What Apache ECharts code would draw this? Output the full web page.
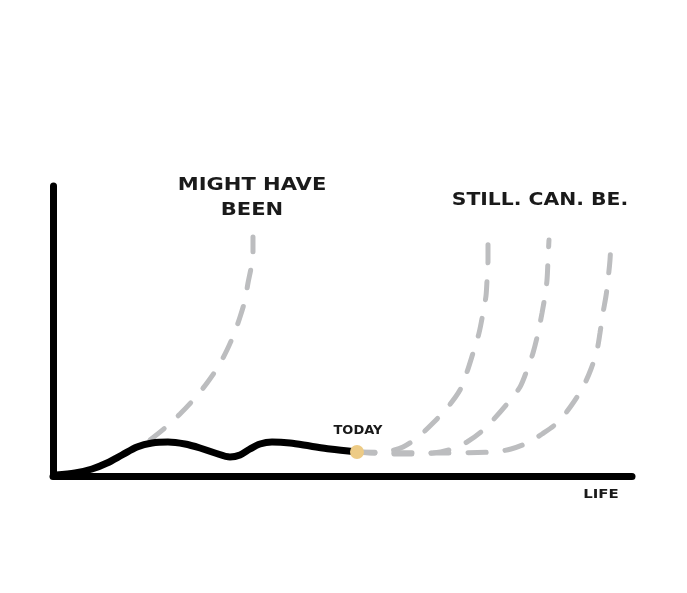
<!DOCTYPE html>
<html>
<head>
<meta charset="utf-8">
<script src="https://cdn.jsdelivr.net/npm/echarts@6/dist/echarts.min.js"></script>
<style>
  html, body { margin: 0; padding: 0; background: #fff; }
  #chart { width: 687px; height: 593px; }
</style>
</head>
<body>
<div id="chart"></div>
<script>
// Life timeline (x: 0-100 life progress, y: 0-100 outcome)
const lifeSoFar = [[0.52,0.34],[3.80,1.03],[6.74,2.41],[9.33,4.48],[11.92,7.24],[14.51,10.0],[17.10,11.38],[19.86,11.72],[22.80,11.03],[25.39,9.66],[27.98,7.93],[30.57,6.55],[32.30,7.24],[34.02,9.31],[35.75,11.03],[37.82,11.72],[40.93,11.38],[44.39,10.34],[47.84,9.31],[52.50,8.28]];
const mightHaveBeen = [[16.75,12.41],[19.34,16.55],[21.93,21.38],[24.53,26.90],[26.60,32.07],[28.50,37.59],[30.05,43.45],[31.26,48.97],[32.30,54.83],[33.16,60.69],[33.68,66.55],[34.20,71.72],[34.54,76.90],[34.54,82.41]];
const stillCanBe1 = [[52.50,8.28],[55.27,7.93],[58.20,8.62],[60.45,10.0],[63.04,13.45],[65.63,18.28],[68.05,23.45],[70.29,29.66],[71.50,35.86],[72.54,42.41],[73.58,49.31],[74.27,56.21],[74.78,62.07],[74.96,67.59],[75.13,74.48],[75.13,81.38]];
const stillCanBe2 = [[52.50,8.28],[59.93,7.59],[65.63,7.93],[68.91,9.31],[71.50,11.72],[73.92,15.17],[75.99,19.31],[78.41,24.83],[80.66,30.69],[81.87,36.55],[82.90,42.41],[83.77,49.31],[84.46,56.21],[84.97,62.07],[85.32,67.59],[85.49,74.48],[85.66,81.38]];
const stillCanBe3 = [[52.50,8.28],[65.63,7.93],[75.99,8.28],[79.10,9.31],[81.87,11.38],[84.46,14.48],[87.05,18.28],[89.46,24.14],[91.54,30.69],[92.92,36.90],[93.96,43.45],[94.47,49.31],[94.99,56.21],[95.51,62.07],[95.85,67.59],[96.20,74.48],[96.37,81.38]];
const today = [[52.50,8.28]];
const labels = { might: 'MIGHT HAVE\nBEEN', still: 'STILL. CAN. BE.', today: 'TODAY', life: 'LIFE' };

const chart = echarts.init(document.getElementById('chart'), null, { renderer: 'canvas' });
const dashStyle = { color: '#bcbdbf', width: 5, type: [18, 19], cap: 'round' };
const font = '"DejaVu Sans", sans-serif';

chart.setOption({
  animation: false,
  backgroundColor: '#ffffff',
  grid: { left: 53, right: 55, top: 186, bottom: 117 },
  xAxis: {
    type: 'value', min: 0, max: 100,
    axisLine: { show: true, onZero: false, lineStyle: { color: '#000', width: 7, cap: 'round' } },
    axisTick: { show: false }, axisLabel: { show: false }, splitLine: { show: false }
  },
  yAxis: {
    type: 'value', min: 0, max: 100,
    axisLine: { show: true, onZero: false, lineStyle: { color: '#000', width: 7, cap: 'round' } },
    axisTick: { show: false }, axisLabel: { show: false }, splitLine: { show: false }
  },
  series: [
    { type: 'line', data: mightHaveBeen, smooth: 0.3, symbol: 'none', lineStyle: dashStyle, z: 2 },
    { type: 'line', data: stillCanBe1, smooth: 0.3, symbol: 'none', lineStyle: dashStyle, z: 2 },
    { type: 'line', data: stillCanBe2, smooth: 0.3, symbol: 'none', lineStyle: dashStyle, z: 2 },
    { type: 'line', data: stillCanBe3, smooth: 0.3, symbol: 'none', lineStyle: dashStyle, z: 2 },
    { type: 'line', data: lifeSoFar, smooth: 0.3, symbol: 'none', lineStyle: { color: '#000', width: 7, cap: 'round', join: 'round' }, z: 3 },
    { type: 'scatter', data: today, symbolSize: 14, itemStyle: { color: '#edcb85', opacity: 1 }, z: 4,
      label: { show: true, position: 'top', offset: [1, -3], formatter: labels.today,
        fontFamily: font, fontSize: 13, fontWeight: 'bold', color: '#1a1a1a' } }
  ],
  graphic: [
    { type: 'text', x: 252, y: 198, scaleX: 1.17, style: { text: labels.might, fill: '#1a1a1a', font: 'bold 18px ' + font, textAlign: 'center', textVerticalAlign: 'middle', lineHeight: 25 } },
    { type: 'text', x: 540, y: 200, scaleX: 1.13, style: { text: labels.still, fill: '#1a1a1a', font: 'bold 18px ' + font, textAlign: 'center', textVerticalAlign: 'middle' } },
    { type: 'text', x: 601, y: 495, scaleX: 1.15, style: { text: labels.life, fill: '#1a1a1a', font: 'bold 13px ' + font, textAlign: 'center', textVerticalAlign: 'middle' } }
  ]
});
</script>
</body>
</html>
